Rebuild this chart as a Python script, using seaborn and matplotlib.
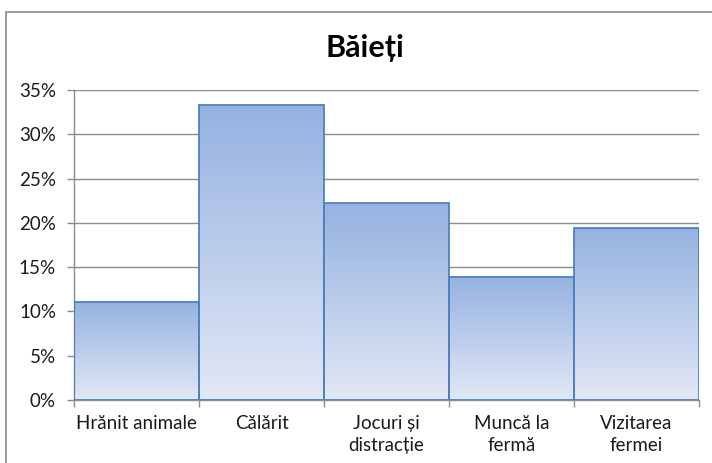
import numpy as np
import pandas as pd
import matplotlib
matplotlib.use("Agg")
import matplotlib.pyplot as plt
from matplotlib.lines import Line2D
from matplotlib.colors import LinearSegmentedColormap
from matplotlib.ticker import PercentFormatter, FixedLocator
import seaborn as sns

categories = ["Hrănit animale", "Călărit", "Jocuri și\ndistracție", "Muncă la\nfermă", "Vizitarea\nfermei"]
shares = [11.1, 33.3, 22.2, 13.9, 19.4]
y_ticks = [0, 5, 10, 15, 20, 25, 30, 35]
title = "Băieți"

sns.set_theme(style="white")
plt.rcParams["font.family"] = ["Lato", "DejaVu Sans"]

df = pd.DataFrame({"cat": categories, "val": shares})

fig = plt.figure(figsize=(7.12, 4.63), dpi=100)
ax = fig.add_axes([74 / 712, 1 - 400 / 463, (699 - 74) / 712, (400 - 90) / 463])

sns.barplot(data=df, x="cat", y="val", ax=ax, width=1.0, color="#a8bfe6",
            edgecolor="#4f81bd", linewidth=1.3, saturation=1, zorder=3)

# vertical gradient inside every bar
grad = LinearSegmentedColormap.from_list("g", ["#e2e8f5", "#95b2e1"])
gimg = np.linspace(0, 1, 256).reshape(-1, 1)
for p in ax.patches:
    x0, y0 = p.get_x(), p.get_y()
    w, h = p.get_width(), p.get_height()
    im = ax.imshow(gimg, cmap=grad, origin="lower", aspect="auto",
                   extent=[x0, x0 + w, y0, y0 + h], zorder=2.5, interpolation="bicubic")
    im.set_clip_path(p)
    p.set_facecolor("none")
ax.set_xlim(-0.5, len(categories) - 0.5)
ax.set_ylim(0, 35)

# axes styling
ax.set_yticks(y_ticks)
ax.yaxis.set_major_formatter(PercentFormatter(decimals=0))
ax.grid(axis="y", color="#8c8c8c", linewidth=1.0, zorder=0)
ax.set_axisbelow(True)
for side in ["top", "right"]:
    ax.spines[side].set_visible(False)
for side in ["left", "bottom"]:
    ax.spines[side].set_color("#8c8c8c")
    ax.spines[side].set_linewidth(1.0)

ax.tick_params(axis="y", which="major", left=True, length=5, width=1.0, color="#8c8c8c",
               labelsize=13.5, labelcolor="#1a1a1a", pad=8)
ax.tick_params(axis="x", which="major", bottom=False, length=0, labelsize=13.5,
               labelcolor="#1a1a1a", pad=11)
ax.xaxis.set_minor_locator(FixedLocator(np.arange(-0.5, len(categories), 1.0)))
ax.tick_params(axis="x", which="minor", bottom=True, length=5, width=1.0, color="#8c8c8c")
ax.set_xlabel("")
ax.set_ylabel("")
for lbl in ax.get_xticklabels():
    lbl.set_linespacing(1.35)

fig.text(365 / 712, 1 - 57 / 463, title, ha="center", va="baseline",
         fontsize=22, fontweight="bold", color="#000000")

# outer chart frame
frame_kw = dict(color="#8a8a8a", linewidth=1.2, transform=fig.transFigure)
fig.add_artist(Line2D([6 / 712, 1.0], [1 - 12 / 463, 1 - 12 / 463], **frame_kw))
fig.add_artist(Line2D([6 / 712, 6 / 712], [0.0, 1 - 12 / 463], **frame_kw))

fig.savefig("out.png", dpi=100)
